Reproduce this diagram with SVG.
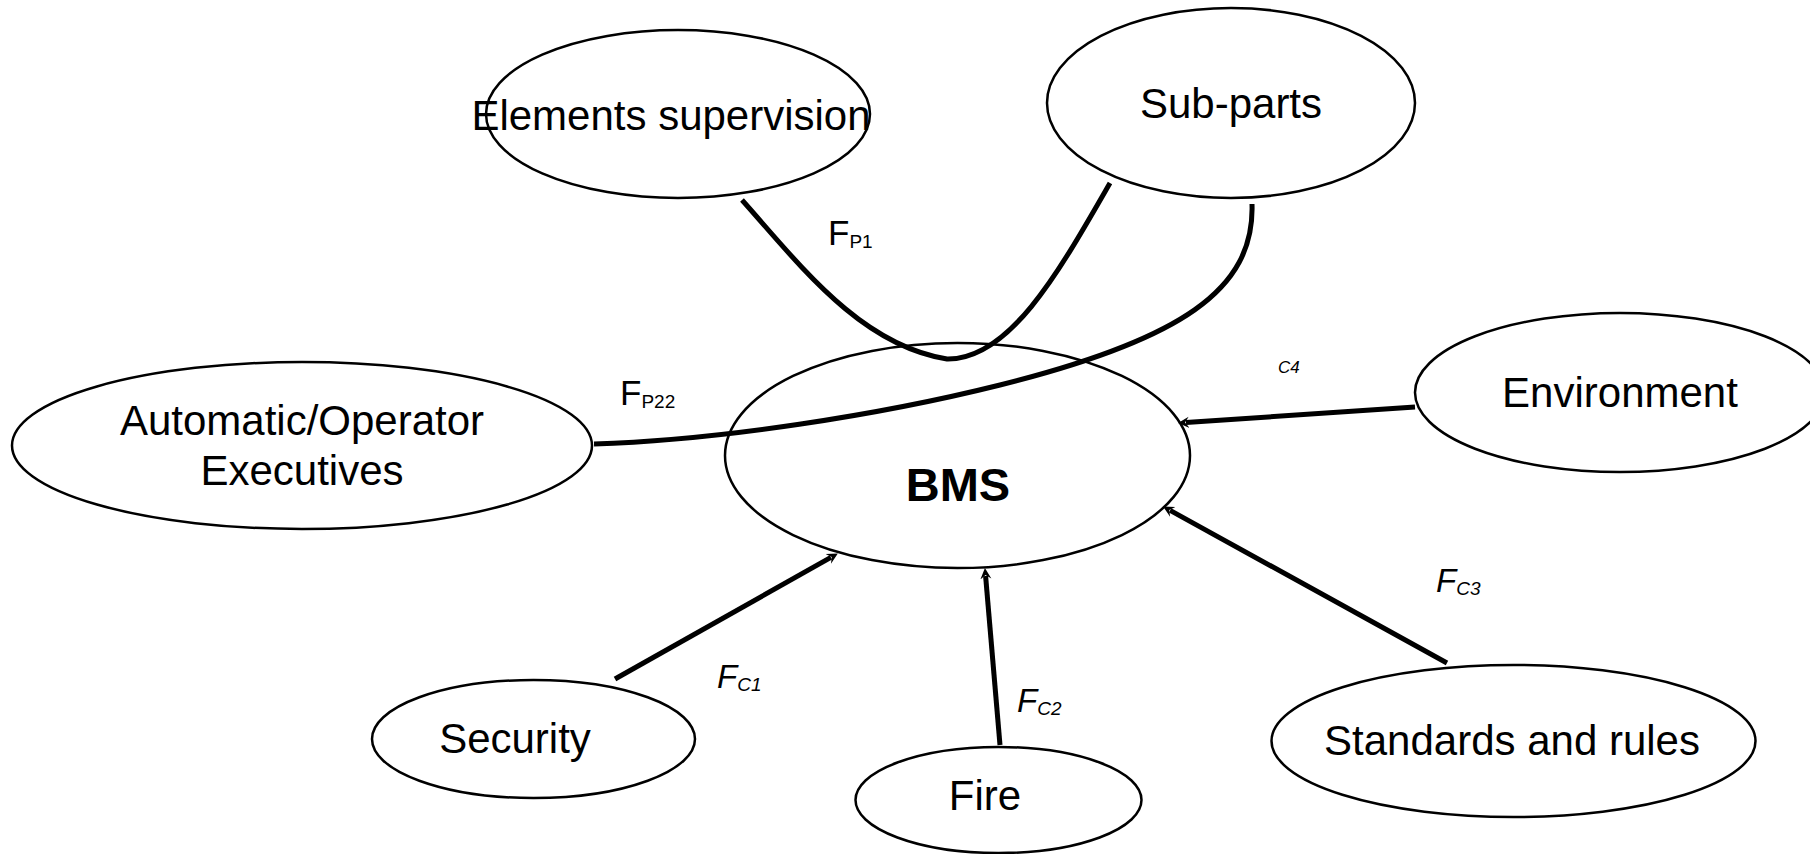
<svg xmlns="http://www.w3.org/2000/svg" width="1810" height="854" viewBox="0 0 1810 854">
  <style>
    .node { fill: #ffffff; stroke: #000000; stroke-width: 2.5; }
    .txt { font-family: "Liberation Sans", Arial, sans-serif; font-size: 42px; fill: #000000; text-anchor: middle; }
    .bold { font-weight: bold; font-size: 47px; }
    .link { fill: none; stroke: #000000; stroke-width: 5; stroke-linecap: butt; }
    .lbl { font-family: "Liberation Sans", Arial, sans-serif; font-size: 35px; fill: #000000; }
    .it { font-style: italic; font-size: 33px; }
    .sub { font-size: 19px; }
    .c4 { font-family: "Liberation Sans", Arial, sans-serif; font-size: 17px; font-style: italic; fill: #000000; }
  </style>
  <defs>
    <marker id="barb" markerUnits="userSpaceOnUse" markerWidth="14" markerHeight="14" viewBox="0 0 14 14" refX="3" refY="7" orient="auto">
      <path d="M0,1.5 L11,7 L0,12.5 L4,7 Z" fill="#000000"/>
    </marker>
  </defs>

  <rect width="1810" height="854" fill="#ffffff"/>

  <!-- surrounding systems -->
  <g id="node-elements">
    <ellipse class="node" cx="678" cy="114" rx="192" ry="84"/>
    <text class="txt" x="671" y="130">Elements supervision</text>
  </g>
  <g id="node-subparts">
    <ellipse class="node" cx="1231" cy="103" rx="184" ry="95"/>
    <text class="txt" x="1231" y="118">Sub-parts</text>
  </g>
  <g id="node-automatic">
    <ellipse class="node" cx="302" cy="445.5" rx="290" ry="83.5"/>
    <text class="txt" x="302" y="435">Automatic/Operator</text>
    <text class="txt" x="302" y="485">Executives</text>
  </g>
  <g id="node-environment">
    <ellipse class="node" cx="1620" cy="392.5" rx="205" ry="79.5"/>
    <text class="txt" x="1620" y="407">Environment</text>
  </g>
  <g id="node-security">
    <ellipse class="node" cx="533.5" cy="739" rx="161.5" ry="59"/>
    <text class="txt" x="515" y="753">Security</text>
  </g>
  <g id="node-fire">
    <ellipse class="node" cx="998.5" cy="800" rx="143" ry="53"/>
    <text class="txt" x="985" y="810">Fire</text>
  </g>
  <g id="node-standards">
    <ellipse class="node" cx="1513.5" cy="741" rx="242" ry="76"/>
    <text class="txt" x="1512" y="755">Standards and rules</text>
  </g>

  <!-- central system, outline only so crossing flows stay visible -->
  <g id="node-bms">
    <ellipse class="node" cx="957.5" cy="455.5" rx="232.5" ry="112.5" style="fill:none"/>
    <text class="txt bold" x="958" y="501">BMS</text>
  </g>

  <!-- flows -->
  <g id="connectors">
    <path class="link" d="M742,200 C800,265 860,345 947,359 C1010,360 1060,270 1110,183"/>
    <path class="link" d="M1252,204 C1255,290 1180,340 1000,385 C880,415 720,440 594,444"/>
    <path class="link" d="M1415,407 L1186,422.5" marker-end="url(#barb)"/>
    <path class="link" d="M615,679 L830.9,557.4" marker-end="url(#barb)"/>
    <path class="link" d="M1000,745 L985.6,576" marker-end="url(#barb)"/>
    <path class="link" d="M1447,663 L1170.1,510.4" marker-end="url(#barb)"/>
  </g>

  <!-- flow labels -->
  <g id="labels">
    <text class="lbl" x="828" y="245">F<tspan class="sub" y="248">P1</tspan></text>
    <text class="lbl" x="620" y="405">F<tspan class="sub" y="408">P22</tspan></text>
    <text class="lbl it" x="717" y="688">F<tspan class="sub" y="691">C1</tspan></text>
    <text class="lbl it" x="1017" y="712">F<tspan class="sub" y="715">C2</tspan></text>
    <text class="lbl it" x="1436" y="592">F<tspan class="sub" y="595">C3</tspan></text>
    <text class="c4" x="1278" y="373">C4</text>
  </g>
</svg>
